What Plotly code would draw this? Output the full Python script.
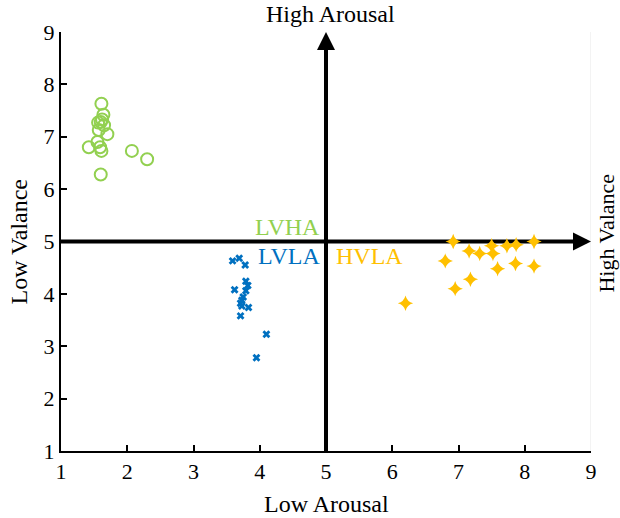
import plotly.graph_objects as go

# LVHA (green circles)
lvha_x = [1.61, 1.64, 1.62, 1.60, 1.65, 1.56, 1.57, 1.70, 1.55, 1.42, 1.59, 1.61, 2.07, 2.30, 1.60]
lvha_y = [7.63, 7.42, 7.33, 7.28, 7.22, 7.27, 7.13, 7.05, 6.90, 6.80, 6.80, 6.73, 6.73, 6.57, 6.28]

# LVLA (blue crosses)
lvla_x = [3.59, 3.69, 3.78, 3.62, 3.79, 3.82, 3.79, 3.75, 3.73, 3.71, 3.73, 3.83, 3.71, 4.10, 3.95]
lvla_y = [4.63, 4.68, 4.55, 4.08, 4.24, 4.16, 4.06, 3.94, 3.88, 3.82, 3.77, 3.74, 3.58, 3.23, 2.78]

# HVLA (yellow stars)
hvla_x = [6.92, 7.16, 7.32, 7.50, 7.52, 7.73, 7.87, 8.14, 6.80, 7.86, 8.14, 7.59, 7.18, 6.95, 6.20]
hvla_y = [5.00, 4.82, 4.77, 4.92, 4.77, 4.92, 4.94, 5.00, 4.63, 4.58, 4.53, 4.48, 4.28, 4.10, 3.82]

tick_vals = [1, 2, 3, 4, 5, 6, 7, 8, 9]

GREEN = "#92D050"
BLUE = "#0070C0"
GOLD = "#FFC000"
FONT = "Liberation Serif, Times New Roman, serif"

fig = go.Figure()
fig.add_trace(go.Scatter(x=lvha_x, y=lvha_y, mode="markers",
                         marker=dict(symbol="circle-open", size=12, color=GREEN,
                                     line=dict(width=2, color=GREEN))))
fig.add_trace(go.Scatter(x=lvla_x, y=lvla_y, mode="markers",
                         marker=dict(symbol="x", size=7, color=BLUE, line=dict(width=0))))
fig.add_trace(go.Scatter(x=hvla_x, y=hvla_y, mode="markers",
                         marker=dict(symbol="star-diamond", size=11, color=GOLD, line=dict(width=0))))

# axis lines (below markers)
fig.add_shape(type="line", x0=1, x1=8.8, y0=5, y1=5, xref="x", yref="y",
              line=dict(color="black", width=4), layer="below")
fig.add_shape(type="line", x0=5, x1=5, y0=1, y1=8.7, xref="x", yref="y",
              line=dict(color="black", width=4), layer="below")
# faint right border
fig.add_shape(type="line", x0=9, x1=9, y0=1, y1=9, xref="x", yref="y",
              line=dict(color="#e6e6e6", width=1), layer="below")

# arrowheads
fig.add_annotation(x=9, y=5, ax=8.75, ay=5, xref="x", yref="y", axref="x", ayref="y",
                   text="", showarrow=True, arrowhead=2, arrowsize=0.9, arrowwidth=4,
                   arrowcolor="black")
fig.add_annotation(x=5, y=9, ax=5, ay=8.65, xref="x", yref="y", axref="x", ayref="y",
                   text="", showarrow=True, arrowhead=2, arrowsize=0.9, arrowwidth=4,
                   arrowcolor="black")

# quadrant labels
fig.add_annotation(x=4.94, y=5.27, text="LVHA", showarrow=False, xanchor="right",
                   yanchor="middle", font=dict(family=FONT, size=24, color=GREEN))
fig.add_annotation(x=4.94, y=4.72, text="LVLA", showarrow=False, xanchor="right",
                   yanchor="middle", font=dict(family=FONT, size=24, color=BLUE))
fig.add_annotation(x=5.12, y=4.72, text="HVLA", showarrow=False, xanchor="left",
                   yanchor="middle", font=dict(family=FONT, size=24, color=GOLD))

# axis titles
title_font = dict(family=FONT, size=24, color="black")
fig.add_annotation(x=0.508, y=1, yshift=3, xref="paper", yref="paper", text="High Arousal",
                   showarrow=False, yanchor="bottom", font=title_font)
fig.add_annotation(x=0.5, y=0, yshift=-38, xref="paper", yref="paper", text="Low Arousal",
                   showarrow=False, yanchor="top", font=title_font)
fig.add_annotation(x=0, y=0.5, xshift=-28, xref="paper", yref="paper", text="Low Valance",
                   showarrow=False, textangle=-90, xanchor="right", font=title_font)
fig.add_annotation(x=1, y=0.52, xshift=1, xref="paper", yref="paper", text="High Valance",
                   showarrow=False, textangle=-90, xanchor="left",
                   font=dict(family=FONT, size=22, color="black"))

fig.update_layout(
    width=620, height=518,
    margin=dict(l=61, r=29, t=32, b=67),
    paper_bgcolor="white", plot_bgcolor="white",
    showlegend=False,
    font=dict(family=FONT, size=22, color="black"),
    xaxis=dict(range=[1, 9], tickvals=tick_vals, ticks="inside", ticklen=6, tickwidth=2,
               tickcolor="black", showline=True, linecolor="black", linewidth=2,
               showgrid=False, zeroline=False, tickfont=dict(family=FONT, size=22)),
    yaxis=dict(range=[1, 9], tickvals=tick_vals, ticks="inside", ticklen=6, tickwidth=2,
               tickcolor="black", showline=True, linecolor="black", linewidth=2,
               showgrid=False, zeroline=False, tickfont=dict(family=FONT, size=22)),
)

fig.write_html("out.html", config={"displayModeBar": False},
               post_script="document.body.style.margin='0';document.body.style.padding='0';")
